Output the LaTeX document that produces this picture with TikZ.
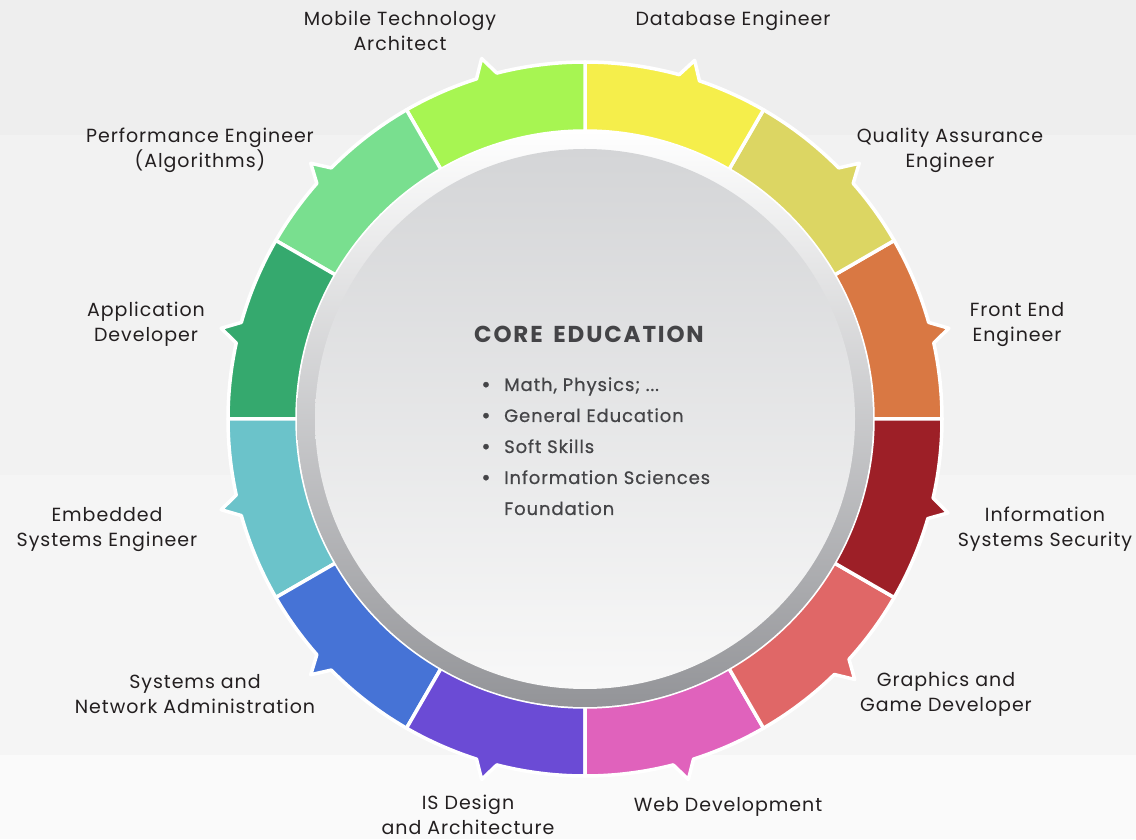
\documentclass[tikz,border=0pt]{standalone}
\usepackage{fontspec}
\setmainfont{Poppins}
\newfontfamily\lblfont{Poppins}[LetterSpace=5]
\newfontfamily\titlefont{Poppins}[LetterSpace=8]
\newfontfamily\semib{Poppins}[FakeBold=0.6, LetterSpace=5]
\newfontfamily\bulfont{Poppins}[FakeBold=1]
\definecolor{bgA}{HTML}{EEEEEE}
\definecolor{bgB}{HTML}{F2F2F2}
\definecolor{bgC}{HTML}{F5F5F5}
\definecolor{bgD}{HTML}{FAFAFA}
\definecolor{cDB}{HTML}{F5EE4B}
\definecolor{cQA}{HTML}{DCD663}
\definecolor{cFE}{HTML}{D97843}
\definecolor{cIS}{HTML}{9D1F27}
\definecolor{cGG}{HTML}{E06767}
\definecolor{cWD}{HTML}{E062BC}
\definecolor{cID}{HTML}{6B4BD5}
\definecolor{cSN}{HTML}{4673D6}
\definecolor{cES}{HTML}{6BC3CA}
\definecolor{cAD}{HTML}{35A96E}
\definecolor{cPE}{HTML}{79DF8F}
\definecolor{cMT}{HTML}{A7F552}
\definecolor{bezB}{HTML}{939498}
\definecolor{diskT}{HTML}{D4D5D7}
\definecolor{diskB}{HTML}{F8F8F8}
\definecolor{txt}{HTML}{231F20}
\definecolor{coretxt}{HTML}{444447}
\begin{document}
\begin{tikzpicture}[x=1pt,y=1pt,
  lbl/.style={font=\fontsize{19}{25}\selectfont\lblfont, text=txt, align=center, inner sep=0pt},
  coretitle/.style={font=\fontsize{23}{25}\selectfont\titlefont\bfseries, text=coretxt, inner sep=0pt, anchor=base},
  coreitem/.style={font=\fontsize{18}{31}\selectfont\semib, text=coretxt, inner sep=0pt, anchor=base west},
  corebul/.style={font=\fontsize{22}{31}\selectfont\bulfont, text=coretxt, inner sep=0pt, anchor=base},
  segment/.style={draw=white, line width=3.5pt, line join=round}]
\useasboundingbox (0,0) rectangle (1136,839);
\fill[bgA] (0,704) rectangle (1136,839);
\fill[bgB] (0,364) rectangle (1136,704);
\fill[bgC] (0,84) rectangle (1136,364);
\fill[bgD] (0,0) rectangle (1136,84);
\begin{scope}[shift={(585,420)}]
\foreach \a/\col/\t in {0/cFE/-1, 30/cQA/-2, 60/cDB/-2, 90/cMT/1, 120/cPE/2, 150/cAD/1,
                         180/cES/-1, 210/cSN/-2, 240/cID/-1, 270/cWD/1, 300/cGG/1, 330/cIS/0.5}{
  \pgfmathsetmacro\n{\a+15+\t}
  \pgfmathsetmacro\na{\n-1.7}
  \pgfmathsetmacro\nb{\n+1.7}
  \pgfmathsetmacro\e{\a+30}
  \filldraw[segment, fill=\col] (\a:288pt) -- (\a:357pt)
     arc[start angle=\a, end angle=\na, radius=357pt] -- (\n:375pt) -- (\nb:357pt)
     arc[start angle=\nb, end angle=\e, radius=357pt] -- (\e:288pt)
     arc[start angle=\e, end angle=\a, radius=288pt] -- cycle;
}
\shade[top color=white, bottom color=bezB] (0,0) circle (288pt);
\shade[top color=diskT, bottom color=diskB] (0,0) circle (270pt);
\end{scope}
% labels
\node[lbl] (mt) at (400,808) {Mobile Technology\\Architect};
\node[lbl] (db) at (733,818) {Database Engineer};
\node[lbl] (qa) at (950,689) {Quality Assurance\\Engineer};
\node[lbl] (fe) at (1017,514) {Front End\\Engineer};
\node[lbl] (is) at (1045,310) {Information\\Systems Security};
\node[lbl] (gg) at (946,145) {Graphics and\\Game Developer};
\node[lbl] (wd) at (728,32) {Web Development};
\node[lbl] (id) at (468,24) {IS Design\\and Architecture};
\node[lbl] (sn) at (195,145) {Systems and\\Network Administration};
\node[lbl] (es) at (107,309) {Embedded\\Systems Engineer};
\node[lbl] (ad) at (146,515) {Application\\Developer};
\node[lbl] (pe) at (200,689) {Performance Engineer\\(Algorithms)};
% core
\node[coretitle] (ct) at (589,496) {CORE\hspace{4pt} EDUCATION};
\node[corebul] (d1) at (486,447) {•};
\node[coreitem] (i1) at (504,448) {Math, Physics; ...};
\node[corebul] (d2) at (486,416) {•};
\node[coreitem] (i2) at (504,417) {General Education};
\node[corebul] (d3) at (486,385) {•};
\node[coreitem] (i3) at (504,386) {Soft Skills};
\node[corebul] (d4) at (486,354) {•};
\node[coreitem] (i4) at (504,355) {Information Sciences};
\node[coreitem] (i5) at (504,324) {Foundation};
\end{tikzpicture}
\end{document}
